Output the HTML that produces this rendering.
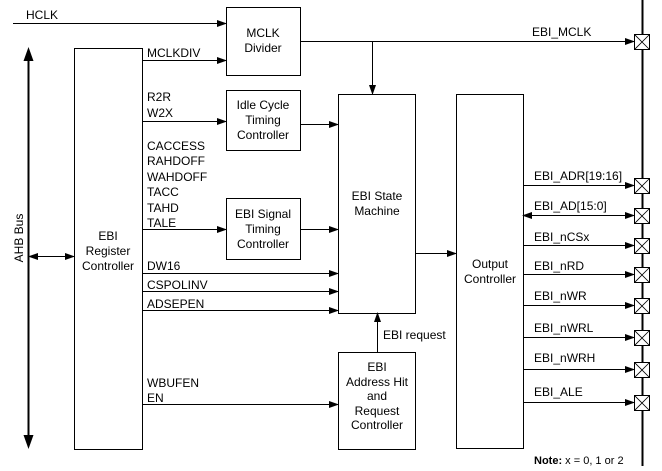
<!DOCTYPE html>
<html><head><meta charset="utf-8"><style>
html,body{margin:0;padding:0;background:#fff;}
svg{display:block;}
text{font-family:"Liberation Sans",Arial,sans-serif;font-size:12px;fill:#000;}
</style></head><body>
<svg width="662" height="471" viewBox="0 0 662 471" xmlns="http://www.w3.org/2000/svg">
<defs>
<marker id="a" markerWidth="10" markerHeight="8" refX="9" refY="4" orient="auto" markerUnits="userSpaceOnUse">
<path d="M0,0.5 L10,4 L0,7.5 z" fill="#000"/></marker>
<marker id="as" markerWidth="10" markerHeight="8" refX="1" refY="4" orient="auto" markerUnits="userSpaceOnUse">
<path d="M10,0.5 L0,4 L10,7.5 z" fill="#000"/></marker>
</defs>
<g fill="none" stroke="#000" stroke-width="1">
<!-- boxes -->
<rect x="74.5" y="48.5" width="68" height="401"/>
<rect x="226.5" y="7.5" width="74" height="68"/>
<rect x="226.5" y="90.5" width="74" height="60"/>
<rect x="226.5" y="198.5" width="74" height="61"/>
<rect x="338.5" y="94.5" width="77" height="219"/>
<rect x="338.5" y="352.5" width="77" height="97"/>
<rect x="456.5" y="94.5" width="67" height="354"/>
<!-- arrows -->
<line x1="13" y1="23.5" x2="226" y2="23.5" marker-end="url(#a)"/>
<line x1="142" y1="60.5" x2="226" y2="60.5" marker-end="url(#a)"/>
<line x1="142" y1="121.5" x2="226" y2="121.5" marker-end="url(#a)"/>
<line x1="142" y1="229.5" x2="226" y2="229.5" marker-end="url(#a)"/>
<line x1="300" y1="124.5" x2="338" y2="124.5" marker-end="url(#a)"/>
<line x1="300" y1="229.5" x2="338" y2="229.5" marker-end="url(#a)"/>
<line x1="142" y1="273.5" x2="338" y2="273.5" marker-end="url(#a)"/>
<line x1="142" y1="291.5" x2="338" y2="291.5" marker-end="url(#a)"/>
<line x1="142" y1="310.5" x2="338" y2="310.5" marker-end="url(#a)"/>
<line x1="142" y1="404.5" x2="338" y2="404.5" marker-end="url(#a)"/>
<line x1="415" y1="253.5" x2="456" y2="253.5" marker-end="url(#a)"/>
<line x1="377.5" y1="352" x2="377.5" y2="313" marker-end="url(#a)"/>
<line x1="300" y1="41.5" x2="634" y2="41.5" marker-end="url(#a)"/>
<line x1="372.5" y1="41.5" x2="372.5" y2="94" marker-end="url(#a)"/>
<line x1="29" y1="256.5" x2="74" y2="256.5" marker-start="url(#as)" marker-end="url(#a)"/>
<line x1="523" y1="185.5" x2="634" y2="185.5" marker-end="url(#a)"/>
<line x1="523" y1="215.5" x2="634" y2="215.5" marker-start="url(#as)" marker-end="url(#a)"/>
<line x1="523" y1="245.5" x2="634" y2="245.5" marker-end="url(#a)"/>
<line x1="523" y1="274.5" x2="634" y2="274.5" marker-end="url(#a)"/>
<line x1="523" y1="305.5" x2="634" y2="305.5" marker-end="url(#a)"/>
<line x1="523" y1="337.5" x2="634" y2="337.5" marker-end="url(#a)"/>
<line x1="523" y1="369.5" x2="634" y2="369.5" marker-end="url(#a)"/>
<line x1="523" y1="402.5" x2="634" y2="402.5" marker-end="url(#a)"/>
</g>
<!-- AHB bus -->
<line x1="28.5" y1="60" x2="28.5" y2="436" stroke="#000" stroke-width="2"/>
<path d="M28.5,47 L23.5,61 L33.5,61 z" fill="#000"/>
<path d="M28.5,449 L23.5,435 L33.5,435 z" fill="#000"/>
<text transform="translate(23,238) rotate(-90)" text-anchor="middle">AHB Bus</text>
<!-- right bar -->
<line x1="642.5" y1="0" x2="642.5" y2="466" stroke="#000" stroke-width="2"/>
<g fill="#fff" stroke="#000" stroke-width="1">
<g id="pads">
<rect x="634.5" y="34.5" width="15" height="15"/>
<rect x="634.5" y="178.5" width="15" height="15"/>
<rect x="634.5" y="208.5" width="15" height="15"/>
<rect x="634.5" y="238.5" width="15" height="15"/>
<rect x="634.5" y="267.5" width="15" height="15"/>
<rect x="634.5" y="298.5" width="15" height="15"/>
<rect x="634.5" y="330.5" width="15" height="15"/>
<rect x="634.5" y="362.5" width="15" height="15"/>
<rect x="634.5" y="395.5" width="15" height="15"/>
</g>
</g>
<g stroke="#000" stroke-width="0.8">
<path d="M634.5,34.5l15,15M649.5,34.5l-15,15"/>
<path d="M634.5,178.5l15,15M649.5,178.5l-15,15"/>
<path d="M634.5,208.5l15,15M649.5,208.5l-15,15"/>
<path d="M634.5,238.5l15,15M649.5,238.5l-15,15"/>
<path d="M634.5,267.5l15,15M649.5,267.5l-15,15"/>
<path d="M634.5,298.5l15,15M649.5,298.5l-15,15"/>
<path d="M634.5,330.5l15,15M649.5,330.5l-15,15"/>
<path d="M634.5,362.5l15,15M649.5,362.5l-15,15"/>
<path d="M634.5,395.5l15,15M649.5,395.5l-15,15"/>
</g>
<!-- labels -->
<text x="26" y="19">HCLK</text>
<text x="147" y="57">MCLKDIV</text>
<text x="147" y="101">R2R</text>
<text x="147" y="117">W2X</text>
<text x="147" y="150">CACCESS</text>
<text x="147" y="165">RAHDOFF</text>
<text x="147" y="181">WAHDOFF</text>
<text x="147" y="196">TACC</text>
<text x="147" y="212">TAHD</text>
<text x="147" y="227">TALE</text>
<text x="147" y="270">DW16</text>
<text x="147" y="289">CSPOLINV</text>
<text x="147" y="308">ADSEPEN</text>
<text x="147" y="387">WBUFEN</text>
<text x="147" y="402">EN</text>
<g text-anchor="middle">
<text x="263" y="37">MCLK</text><text x="263" y="52">Divider</text>
<text x="263" y="109">Idle Cycle</text><text x="263" y="124">Timing</text><text x="263" y="139">Controller</text>
<text x="263" y="218">EBI Signal</text><text x="263" y="233">Timing</text><text x="263" y="248">Controller</text>
<text x="108" y="240">EBI</text><text x="108" y="255">Register</text><text x="108" y="270">Controller</text>
<text x="377" y="200">EBI State</text><text x="377" y="215">Machine</text>
<text x="377" y="371">EBI</text><text x="377" y="386">Address Hit</text><text x="377" y="400">and</text><text x="377" y="415">Request</text><text x="377" y="429">Controller</text>
<text x="490" y="268">Output</text><text x="490" y="283">Controller</text>
</g>
<text x="383" y="339">EBI request</text>
<text x="532" y="36">EBI_MCLK</text>
<text x="534" y="180">EBI_ADR[19:16]</text>
<text x="534" y="210">EBI_AD[15:0]</text>
<text x="534" y="241">EBI_nCSx</text>
<text x="534" y="270">EBI_nRD</text>
<text x="534" y="300">EBI_nWR</text>
<text x="534" y="332">EBI_nWRL</text>
<text x="534" y="362">EBI_nWRH</text>
<text x="534" y="396">EBI_ALE</text>
<text x="534" y="464" style="font-size:11px"><tspan font-weight="bold">Note:</tspan> x = 0, 1 or 2</text>
</svg>
</body></html>
